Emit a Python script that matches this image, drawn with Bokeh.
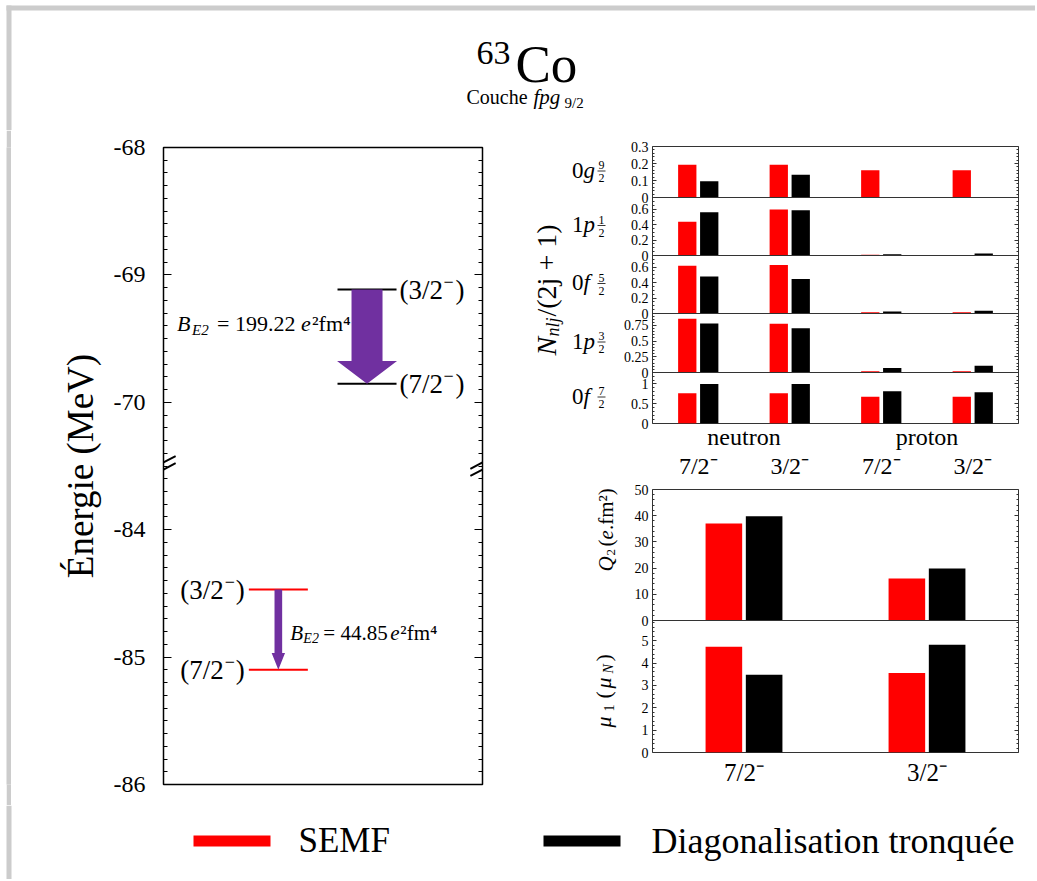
import numpy as np
from bokeh.plotting import figure
from bokeh.layouts import column, row
from bokeh.models import Range1d, FixedTicker, LinearAxis, Arrow, Span, Spacer
from bokeh.core.properties import value
from bokeh.embed import file_html
from bokeh.resources import INLINE

SERIF = "Liberation Serif"
RED, BLACK, PURPLE, FRAME, GRAY = "#ff0000", "#000000", "#7030a0", "#333333", "#cccccc"

# ---------------- data ----------------
states = ["7/2⁻", "3/2⁻"]
species = ["neutron", "proton"]
series_names = ["SEMF", "Diagonalisation tronquée"]

level_semf = [-85.10, -84.47]      # MeV : 7/2-, 3/2-
level_diag = [-69.855, -69.115]    # MeV : 7/2-, 3/2-
be2_semf = 44.85
be2_diag = 199.22
energy_ticks = [-68, -69, -70, -84, -85, -86]

# N_nlj/(2j+1) ; order: neutron 7/2-, neutron 3/2-, proton 7/2-, proton 3/2-
occ_0g92_semf = [0.192, 0.192, 0.160, 0.160]
occ_0g92_diag = [0.095, 0.134, 0.000, 0.000]
occ_1p12_semf = [0.435, 0.594, 0.010, 0.008]
occ_1p12_diag = [0.560, 0.586, 0.015, 0.026]
occ_0f52_semf = [0.617, 0.626, 0.017, 0.017]
occ_0f52_diag = [0.477, 0.447, 0.026, 0.034]
occ_1p32_semf = [0.855, 0.775, 0.020, 0.020]
occ_1p32_diag = [0.780, 0.705, 0.070, 0.107]
occ_0f72_semf = [0.765, 0.765, 0.675, 0.675]
occ_0f72_diag = [1.000, 1.000, 0.815, 0.790]

q2_semf = [37.0, 16.0]
q2_diag = [39.8, 19.8]
mu_semf = [4.73, 3.55]
mu_diag = [3.48, 4.82]

# panels listed bottom -> top
orbital_labels = [("0", "f", "7", "2"), ("1", "p", "3", "2"), ("0", "f", "5", "2"),
                  ("1", "p", "1", "2"), ("0", "g", "9", "2")]
occ_semf = [occ_0f72_semf, occ_1p32_semf, occ_0f52_semf, occ_1p12_semf, occ_0g92_semf]
occ_diag = [occ_0f72_diag, occ_1p32_diag, occ_0f52_diag, occ_1p12_diag, occ_0g92_diag]
occ_ymax = [1.29, 0.94, 0.75, 0.75, 0.30]
occ_major = [[0, 0.5, 1], [0, 0.25, 0.5, 0.75], [0, 0.2, 0.4, 0.6], [0, 0.2, 0.4, 0.6], [0, 0.1, 0.2, 0.3]]

mom_ymax = [5.9, 50]
mom_major = [[0, 1, 2, 3, 4, 5], [0, 10, 20, 30, 40, 50]]

# ---------------- layout constants ----------------
OCC_H = [51, 59, 58, 58, 51]
OCC_STEP = [0.1, 0.05, 0.05, 0.05, 0.02]
MOM_H = [132, 131]
MOM_STEP = [0.2, 2]
PAGE_W = 1035


def base_fig(w, h, xr, yr, **kw):
    opts = dict(width=w, height=h, x_range=xr, y_range=yr, toolbar_location=None,
                output_backend="svg", x_axis_location=None, y_axis_location=None, title=None,
                background_fill_color="white", border_fill_color="white",
                outline_line_color=None, min_border=0)
    opts.update(kw)
    p = figure(**opts)
    p.xgrid.visible = False
    p.ygrid.visible = False
    return p


def txt(p, x, y, s, size, italic=False, align="left", baseline="middle", angle=0.0, xo=0, yo=0):
    p.text(x=[x], y=[y], text=[s], text_font=value(SERIF), text_font_size=f"{size}px",
           text_font_style="italic" if italic else "normal", text_align=align,
           text_baseline=baseline, angle=angle, x_offset=xo, y_offset=yo, text_color="black")


def style_axis(ax, maj_in, min_in, color, label_size, standoff):
    ax.axis_line_color = None
    ax.major_tick_in = maj_in
    ax.major_tick_out = 0
    ax.minor_tick_in = min_in
    ax.minor_tick_out = 0
    ax.major_tick_line_color = color
    ax.minor_tick_line_color = color
    ax.major_label_text_font = SERIF
    ax.major_label_text_font_size = label_size
    ax.major_label_text_color = "black"
    ax.major_label_standoff = standoff


def stacked_ticks(heights, ymaxs, majors, steps):
    maj, mnr, labels = [], [], {}
    base = 0.0
    for h, ym, mj, st in zip(heights, ymaxs, majors, steps):
        k = h / ym
        for t in mj:
            pos = round(base + t * k, 4)
            maj.append(pos)
            labels[pos] = f"{t:g}"
        n = int(np.floor(ym / st + 1e-9))
        for i in range(n + 1):
            t = i * st
            if any(abs(t - m) < 1e-9 for m in mj):
                continue
            mnr.append(round(base + t * k, 4))
        base += h
    return maj, mnr, labels


# ---------------- title (page coordinates) ----------------
tfig = base_fig(PAGE_W, 130, Range1d(0, PAGE_W), Range1d(130, 0))
tfig.quad(left=[6], right=[11], top=[5], bottom=[130], fill_color=GRAY, line_color=None)
tfig.quad(left=[6], right=[PAGE_W], top=[5], bottom=[10], fill_color=GRAY, line_color=None)
txt(tfig, 510, 52.5, "63", 34, align="right")
txt(tfig, 515, 63.5, "Co", 53)
txt(tfig, 466, 96, "Couche", 20)
txt(tfig, 533, 96, "fpg", 21, italic=True)
txt(tfig, 564, 102, "9/2", 15)

# ---------------- gray strip ----------------
strip = base_fig(5, 675, Range1d(0, 1), Range1d(0, 1), background_fill_color=GRAY,
                 border_fill_color=GRAY)

# ---------------- left: energy levels ----------------
BREAK_SHIFT = 13.0


def ey(e):
    return e if e > -75 else e + BREAK_SHIFT


left = base_fig(519, 675, Range1d(0, 1), Range1d(ey(-86), ey(-68)),
                min_border_left=152, min_border_right=48, min_border_top=17, min_border_bottom=21,
                outline_line_color="black", outline_line_width=1.5)
e_major = [ey(e) for e in energy_ticks]
e_labels = {ey(e): str(e) for e in energy_ticks}
e_minor = [round(v, 2) for v in np.arange(ey(-86), ey(-68) + 1e-9, 0.1)]
e_minor = [v for v in e_minor if abs(v - round(v)) > 1e-6]

yl = LinearAxis(ticker=FixedTicker(ticks=e_major, minor_ticks=e_minor), major_label_overrides=e_labels,
                axis_label="Énergie (MeV)")
style_axis(yl, 8, 4, "black", "24px", 18)
yl.axis_label_text_font = SERIF
yl.axis_label_text_font_style = "normal"
yl.axis_label_text_color = "black"
yl.axis_label_text_font_size = "37px"
yl.axis_label_standoff = 10
left.add_layout(yl, "left")
yr = LinearAxis(ticker=FixedTicker(ticks=e_major, minor_ticks=e_minor))
style_axis(yr, 8, 4, "black", "0px", 0)
left.add_layout(yr, "right")

# axis break marks
BREAK_Y = -70.5
for xe in (0.0, 1.0):
    for s in (-1, 1):
        left.add_layout(Arrow(end=None, x_start=xe - 0.038, y_start=BREAK_Y - 0.05 + s * 0.028,
                              x_end=xe + 0.038, y_end=BREAK_Y + 0.05 + s * 0.028,
                              line_color="black", line_width=2))

SEMF_X, DIAG_X, LEVEL_HW = 0.36, 0.638, 0.0925
ys_semf = [ey(e) for e in level_semf]
ys_diag = [ey(e) for e in level_diag]
left.segment(x0=[SEMF_X - LEVEL_HW] * 2, x1=[SEMF_X + LEVEL_HW] * 2, y0=ys_semf, y1=ys_semf,
             line_color=RED, line_width=2)
left.segment(x0=[DIAG_X - LEVEL_HW] * 2, x1=[DIAG_X + LEVEL_HW] * 2, y0=ys_diag, y1=ys_diag,
             line_color=BLACK, line_width=2)

LS = 27
for s, y in zip(states, ys_diag):
    core = "(" + s.rstrip("⁻")
    txt(left, DIAG_X + LEVEL_HW, y, core, LS, xo=3)
    txt(left, DIAG_X + LEVEL_HW, y, "−", 18, xo=47, yo=-8)
    txt(left, DIAG_X + LEVEL_HW, y, ")", LS, xo=59)
for s, y in zip(states, ys_semf):
    core = "(" + s.rstrip("⁻")
    txt(left, SEMF_X - LEVEL_HW, y, ")", LS, align="right", xo=-4)
    txt(left, SEMF_X - LEVEL_HW, y, "−", 18, align="right", xo=-14, yo=-8)
    txt(left, SEMF_X - LEVEL_HW, y, core, LS, align="right", xo=-25)


def arrow_poly(xc, y_from, y_to, shaft_hw, head_hw, head_len):
    yb = y_to + head_len
    xs = [xc - shaft_hw, xc + shaft_hw, xc + shaft_hw, xc + head_hw, xc, xc - head_hw, xc - shaft_hw]
    ys = [y_from, y_from, yb, yb, y_to, yb, yb]
    return xs, ys


xs, ys = arrow_poly(DIAG_X, ys_diag[1], ys_diag[0], 0.0486, 0.094, 0.18)
left.patch(xs, ys, fill_color=PURPLE, line_color=None)
xs, ys = arrow_poly(SEMF_X, ys_semf[1], ys_semf[0], 0.012, 0.021, 0.133)
left.patch(xs, ys, fill_color=PURPLE, line_color=None)

mid_d = (ys_diag[0] + ys_diag[1]) / 2
for s, xo, yo, sz, it in [("B", -190, -13, 22, True), ("E2", -175, -7, 15, True),
                          (f"= {be2_diag:.2f}", -150, -13, 22, False), ("e", -66, -13, 22, True),
                          ("²fm⁴", -55, -13, 22, False)]:
    txt(left, DIAG_X, mid_d, s, sz, italic=it, xo=xo, yo=yo)
mid_s = (ys_semf[0] + ys_semf[1]) / 2
for s, xo, yo, sz, it in [("B", 12, 3, 21, True), ("E2", 25, 9, 14, True),
                          (f"= {be2_semf:.2f}", 45, 3, 21, False), ("e", 112, 3, 21, True),
                          ("²fm⁴", 122, 3, 21, False)]:
    txt(left, SEMF_X, mid_s, s, sz, italic=it, xo=xo, yo=yo)

# ---------------- right top: occupations ----------------
OCC_BT, OCC_BB = 16, 58
RIGHT_W = PAGE_W - 620
occ_total = sum(OCC_H)
occ = base_fig(RIGHT_W, OCC_BT + occ_total + OCC_BB, Range1d(-0.5, 3.5), Range1d(0, occ_total),
               min_border_left=31, min_border_right=RIGHT_W - 31 - 367, min_border_top=OCC_BT,
               min_border_bottom=OCC_BB, outline_line_color=FRAME, outline_line_width=1)
gx = np.arange(4)
base = 0.0
for h, ym, sv, dv in zip(OCC_H, occ_ymax, occ_semf, occ_diag):
    occ.vbar(x=gx - 0.12, bottom=base, top=[base + v / ym * h for v in sv], width=0.2,
             fill_color=RED, line_color=None)
    occ.vbar(x=gx + 0.12, bottom=base, top=[base + v / ym * h for v in dv], width=0.2,
             fill_color=BLACK, line_color=None)
    if base > 0:
        occ.add_layout(Span(location=base, dimension="width", line_color=FRAME, line_width=1))
    base += h

o_maj, o_min, o_lab = stacked_ticks(OCC_H, occ_ymax, occ_major, OCC_STEP)
ax = LinearAxis(ticker=FixedTicker(ticks=o_maj, minor_ticks=o_min), major_label_overrides=o_lab)
style_axis(ax, 4, 2, FRAME, "14px", 4)
occ.add_layout(ax, "left")
ax = LinearAxis(ticker=FixedTicker(ticks=o_maj, minor_ticks=o_min))
style_axis(ax, 4, 2, FRAME, "0px", 0)
occ.add_layout(ax, "right")
ax = LinearAxis(ticker=FixedTicker(ticks=[0.5, 2.5]),
                major_label_overrides={0.5: species[0], 2.5: species[1]})
style_axis(ax, 0, 0, None, "24px", 0)
occ.add_layout(ax, "below")
ax = LinearAxis(ticker=FixedTicker(ticks=[0, 1, 2, 3]),
                major_label_overrides={0: states[0], 1: states[1], 2: states[0], 3: states[1]})
style_axis(ax, 0, 0, None, "24px", 0)
occ.add_layout(ax, "below")

# ---------------- right bottom: moments ----------------
MOM_BT, MOM_BB = 8, 53
mom_total = sum(MOM_H)
mom = base_fig(RIGHT_W, MOM_BT + mom_total + MOM_BB, Range1d(-0.5, 1.5), Range1d(0, mom_total),
               min_border_left=31, min_border_right=RIGHT_W - 31 - 367, min_border_top=MOM_BT,
               min_border_bottom=MOM_BB, outline_line_color=FRAME, outline_line_width=1)
gx2 = np.arange(2)
base = 0.0
for h, ym, sv, dv in zip(MOM_H, mom_ymax, [mu_semf, q2_semf], [mu_diag, q2_diag]):
    mom.vbar(x=gx2 - 0.11, bottom=base, top=[base + v / ym * h for v in sv], width=0.2,
             fill_color=RED, line_color=None)
    mom.vbar(x=gx2 + 0.11, bottom=base, top=[base + v / ym * h for v in dv], width=0.2,
             fill_color=BLACK, line_color=None)
    if base > 0:
        mom.add_layout(Span(location=base, dimension="width", line_color=FRAME, line_width=1))
    base += h
m_maj, m_min, m_lab = stacked_ticks(MOM_H, mom_ymax, mom_major, MOM_STEP)
ax = LinearAxis(ticker=FixedTicker(ticks=m_maj, minor_ticks=m_min), major_label_overrides=m_lab)
style_axis(ax, 4, 2, FRAME, "14px", 4)
mom.add_layout(ax, "left")
ax = LinearAxis(ticker=FixedTicker(ticks=m_maj, minor_ticks=m_min))
style_axis(ax, 4, 2, FRAME, "0px", 0)
mom.add_layout(ax, "right")
ax = LinearAxis(ticker=FixedTicker(ticks=[0, 1]), major_label_overrides={0: states[0], 1: states[1]})
style_axis(ax, 0, 0, None, "25px", 6)
mom.add_layout(ax, "below")

# ---------------- labels column between (page coordinates of the frame region) ----------------
lab = base_fig(90, 675, Range1d(530, 620), Range1d(784, 147), min_border_top=17, min_border_bottom=21)
occ_frame_bottom = 130 + OCC_BT + occ_total
base = 0.0
for h, (n, l, num, den) in zip(OCC_H, orbital_labels):
    yc = occ_frame_bottom - (base + h / 2) - 2
    txt(lab, 583, yc, n, 23, align="right")
    txt(lab, 583, yc, l, 23, italic=True)
    txt(lab, 601, yc - 5, num, 12, align="center")
    lab.segment(x0=[597], x1=[605], y0=[yc + 1], y1=[yc + 1], line_color="black", line_width=0.8)
    txt(lab, 601, yc + 8, den, 12, align="center")
    base += h
R90 = np.pi / 2
txt(lab, 546, 355, "N", 28, italic=True, angle=R90)
txt(lab, 552, 336, "nlj", 18, italic=True, angle=R90)
txt(lab, 546, 316, "/(2j + 1)", 28, angle=R90)

txt(lab, 605, 571, "Q", 21, italic=True, angle=R90)
txt(lab, 610, 555, "2", 13, angle=R90)
txt(lab, 605, 546, "(", 21, angle=R90)
txt(lab, 605, 539, "e", 21, italic=True, angle=R90)
txt(lab, 605, 529.5, ".fm²)", 21, angle=R90)
txt(lab, 603, 727, "μ", 22, italic=True, angle=R90)
txt(lab, 608, 711, "1", 14, angle=R90)
txt(lab, 603, 698, "(", 22, angle=R90)
txt(lab, 603, 688, "μ", 22, italic=True, angle=R90)
txt(lab, 608, 673, "N", 14, italic=True, angle=R90)
txt(lab, 603, 661, ")", 22, angle=R90)

# ---------------- legend (page coordinates) ----------------
lfig = base_fig(PAGE_W, 74, Range1d(0, PAGE_W), Range1d(879, 805))
lfig.quad(left=[6], right=[11], top=[805], bottom=[879], fill_color=GRAY, line_color=None)
lfig.quad(left=[193], right=[270], top=[835], bottom=[846], fill_color=RED, line_color=None)
txt(lfig, 298, 840, series_names[0], 35)
lfig.quad(left=[543], right=[620], top=[835], bottom=[846], fill_color=BLACK, line_color=None)
txt(lfig, 651, 840, series_names[1], 36)

body = row(Spacer(width=6, height=675), strip, left, lab, column(occ, mom))
root = column(tfig, body, lfig)

open("out.html", "w").write(file_html(root, INLINE))
